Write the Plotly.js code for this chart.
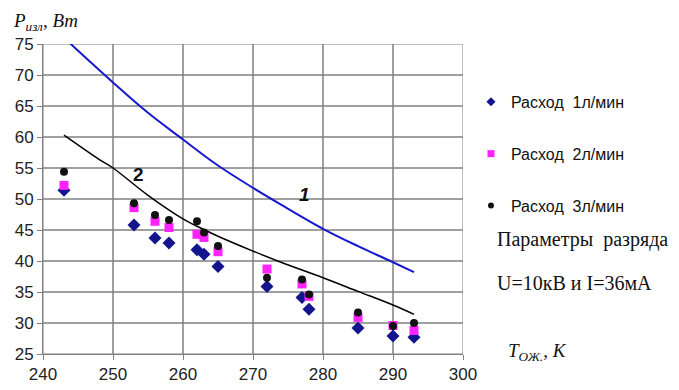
<!DOCTYPE html>
<html>
<head>
<meta charset="utf-8">
<script src="https://cdn.plot.ly/plotly-3.0.1.min.js"></script>
<style>
html,body{margin:0;padding:0;background:#fff}
#chart{width:679px;height:390px}
#chart .gridlayer path{shape-rendering:geometricPrecision !important}
</style>
</head>
<body>
<div id="chart"></div>
<script>
// Measured points
const tempX = [243, 253, 256, 258, 262, 263, 265, 272, 277, 278, 285, 290, 293];
const flow1 = [51.4, 45.8, 43.7, 42.9, 41.8, 41.1, 39.1, 35.9, 34.1, 32.2, 29.2, 27.9, 27.7];
const flow2 = [52.2, 48.6, 46.4, 45.4, 44.3, 43.8, 41.5, 38.7, 36.3, 34.3, 30.9, 29.6, 28.8];
const flow3 = [54.4, 49.3, 47.4, 46.6, 46.4, 44.6, 42.4, 37.3, 37.0, 34.6, 31.7, 29.5, 30.0];
// Curves 1 and 2
const curve1X = [243, 250, 255, 260, 265, 270, 274, 280, 285, 290, 293];
const curve1Y = [76.0, 68.8, 63.9, 59.6, 55.4, 51.8, 49.1, 45.2, 42.4, 39.8, 38.2];
const curve2X = [243, 248, 250, 255, 260, 262, 265, 270, 274, 280, 285, 290, 293];
const curve2Y = [60.3, 56.4, 55.0, 50.6, 46.8, 45.6, 44.0, 41.6, 39.8, 37.3, 35.1, 32.9, 31.4];
const seriesNames = ['Расход&nbsp; 1л/мин', 'Расход&nbsp; 2л/мин', 'Расход&nbsp; 3л/мин'];
const xTicks = [240, 250, 260, 270, 280, 290, 300];
const yTicks = [25, 30, 35, 40, 45, 50, 55, 60, 65, 70, 75];

const colors = ['#14148c', '#ff22ff', '#111'];
const symbols = ['diamond', 'square', 'circle'];
const sizes = [10, 9, 8];
const legendSizes = [7, 7, 6];
const seriesY = [flow1, flow2, flow3];

const traces = [
  {x: curve1X, y: curve1Y, mode: 'lines', line: {color: '#1818d0', width: 2, shape: 'spline'}, showlegend: false, hoverinfo: 'skip'},
  {x: curve2X, y: curve2Y, mode: 'lines', line: {color: '#000', width: 1.5, shape: 'spline'}, showlegend: false, hoverinfo: 'skip'}
];
for (let i = 0; i < 3; i++) {
  traces.push({x: tempX, y: seriesY[i], mode: 'markers', showlegend: false,
    marker: {symbol: symbols[i], size: sizes[i], color: colors[i]}});
}
for (let i = 0; i < 3; i++) {
  traces.push({x: [null], y: [null], name: seriesNames[i], mode: 'markers', legendgroup: 'g' + i,
    marker: {symbol: symbols[i], size: legendSizes[i], color: colors[i]}});
}

// Grid drawn as shapes at the tick values (fallback so it always shows)
const gridShapes = [];
xTicks.forEach(v => gridShapes.push({type: 'line', layer: 'below', xref: 'x', yref: 'paper', x0: v, x1: v, y0: 0, y1: 1,
  line: {color: '#808080', width: 1}}));
yTicks.forEach(v => gridShapes.push({type: 'line', layer: 'below', xref: 'paper', yref: 'y', x0: 0, x1: 1, y0: v, y1: v,
  line: {color: '#808080', width: 1}}));

const axisCommon = {
  showgrid: true, gridcolor: '#808080', gridwidth: 1,
  showline: true, linecolor: '#808080', linewidth: 1,
  ticks: 'outside', ticklen: 5, tickcolor: '#808080', zeroline: false,
  tickfont: {size: 17}, tickmode: 'array'
};

const layout = {
  width: 679, height: 390,
  margin: {l: 43, r: 216, t: 44, b: 36},
  paper_bgcolor: '#fff', plot_bgcolor: '#fff',
  font: {family: 'Liberation Sans, Arial, sans-serif', size: 16, color: '#222'},
  xaxis: Object.assign({}, axisCommon, {range: [240, 300], tickvals: xTicks, ticktext: xTicks.map(String)}),
  yaxis: Object.assign({}, axisCommon, {range: [25, 75], tickvals: yTicks, ticktext: yTicks.map(String)}),
  shapes: gridShapes,
  showlegend: true,
  legend: {
    x: 1.019, xanchor: 'left', y: 0.868, yanchor: 'top',
    traceorder: 'grouped', tracegroupgap: 28,
    font: {family: 'Liberation Sans, Arial, sans-serif', size: 16, color: '#111'},
    bgcolor: 'rgba(0,0,0,0)', itemwidth: 30
  },
  annotations: [
    {xref: 'paper', yref: 'paper', x: -0.076, y: 1.071, xanchor: 'left', yanchor: 'middle', showarrow: false,
     text: '<i>P<sub>изл</sub>, Вт</i>', font: {family: 'Liberation Serif, Times New Roman, serif', size: 19, color: '#111'}},
    {xref: 'paper', yref: 'paper', x: 1.102, y: 0.006, xanchor: 'left', yanchor: 'middle', showarrow: false,
     text: '<i>T<sub>ОЖ.</sub>, К</i>', font: {family: 'Liberation Serif, Times New Roman, serif', size: 19, color: '#111'}},
    {xref: 'paper', yref: 'paper', x: 1.077, y: 0.368, xanchor: 'left', yanchor: 'middle', showarrow: false,
     text: 'Параметры&nbsp; разряда', font: {family: 'Liberation Serif, Times New Roman, serif', size: 20, color: '#111'}},
    {xref: 'paper', yref: 'paper', x: 1.077, y: 0.229, xanchor: 'left', yanchor: 'middle', showarrow: false,
     text: 'U=10кВ и I=36мА', font: {family: 'Liberation Serif, Times New Roman, serif', size: 20, color: '#111'}},
    {x: 277.3, y: 50.7, showarrow: false, text: '<b><i>1</i></b>', font: {family: 'Liberation Sans, Arial, sans-serif', size: 19, color: '#111'}},
    {x: 253.7, y: 53.9, showarrow: false, text: '<b>2</b>', font: {family: 'Liberation Sans, Arial, sans-serif', size: 19, color: '#111'}}
  ]
};

Plotly.newPlot('chart', traces, layout, {displayModeBar: false, staticPlot: true});
</script>
</body>
</html>
